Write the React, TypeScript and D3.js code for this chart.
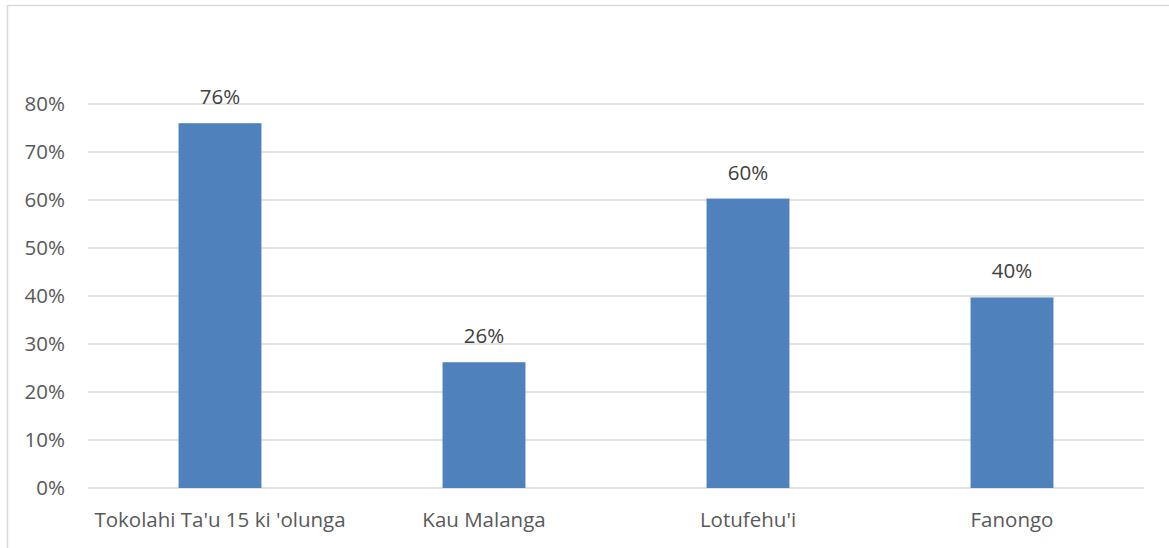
import React, { useEffect, useRef } from 'react';
import * as d3 from 'd3';

const categories = ["Tokolahi Ta'u 15 ki 'olunga", 'Kau Malanga', "Lotufehu'i", 'Fanongo'];
const values = [0.76, 0.262, 0.603, 0.397];
const labels = ['76%', '26%', '60%', '40%'];
const yTicks = [0, 0.1, 0.2, 0.3, 0.4, 0.5, 0.6, 0.7, 0.8];

const W = 1169;
const H = 548;
const margin = { top: 104, right: 25, bottom: 60, left: 88 };
const font = "'Open Sans', sans-serif";
const fs = '20.5px';

const App = () => {
  const ref = useRef<SVGSVGElement>(null);

  useEffect(() => {
    const svg = d3.select(ref.current);
    svg.selectAll('*').remove();

    // chart frame
    svg.append('rect')
      .attr('x', 7.5).attr('y', 5.5)
      .attr('width', W + 10).attr('height', H + 10)
      .attr('fill', '#fff').attr('stroke', '#d9d9d9').attr('stroke-width', 1.5);

    const x = d3.scaleBand()
      .domain(categories)
      .range([margin.left, W - margin.right])
      .paddingInner(0.686)
      .paddingOuter(0.343);

    const y = d3.scaleLinear()
      .domain([0, 0.8])
      .range([H - margin.bottom, margin.top]);

    // gridlines
    svg.append('g')
      .selectAll('line')
      .data(yTicks)
      .join('line')
      .attr('x1', margin.left).attr('x2', W - margin.right)
      .attr('y1', d => y(d)).attr('y2', d => y(d))
      .attr('stroke', '#d9d9d9').attr('stroke-width', 1.3);

    // y labels
    svg.append('g')
      .selectAll('text')
      .data(yTicks)
      .join('text')
      .attr('x', 65)
      .attr('y', d => y(d) + 7)
      .attr('text-anchor', 'end')
      .style('font-family', font).style('font-size', fs)
      .attr('fill', '#595959')
      .text(d => d3.format('.0%')(d));

    // bars
    svg.append('g')
      .attr('fill', '#4f81bd')
      .selectAll('rect')
      .data(values)
      .join('rect')
      .attr('x', (d, i) => x(categories[i])!)
      .attr('width', x.bandwidth())
      .attr('y', d => y(d))
      .attr('height', d => y(0) - y(d));

    // value labels
    svg.append('g')
      .selectAll('text')
      .data(values)
      .join('text')
      .attr('x', (d, i) => x(categories[i])! + x.bandwidth() / 2)
      .attr('y', d => y(d) - 19)
      .attr('text-anchor', 'middle')
      .style('font-family', font).style('font-size', fs)
      .attr('fill', '#404040')
      .text((d, i) => labels[i]);

    // category labels
    svg.append('g')
      .selectAll('text')
      .data(categories)
      .join('text')
      .attr('x', d => x(d)! + x.bandwidth() / 2)
      .attr('y', 527)
      .attr('text-anchor', 'middle')
      .style('font-family', font).style('font-size', fs)
      .attr('fill', '#595959')
      .text(d => d);
  }, []);

  return (
    <svg ref={ref} width={W} height={H} style={{ position: 'absolute', left: 0, top: 0 }}></svg>
  );
};

export default App;
